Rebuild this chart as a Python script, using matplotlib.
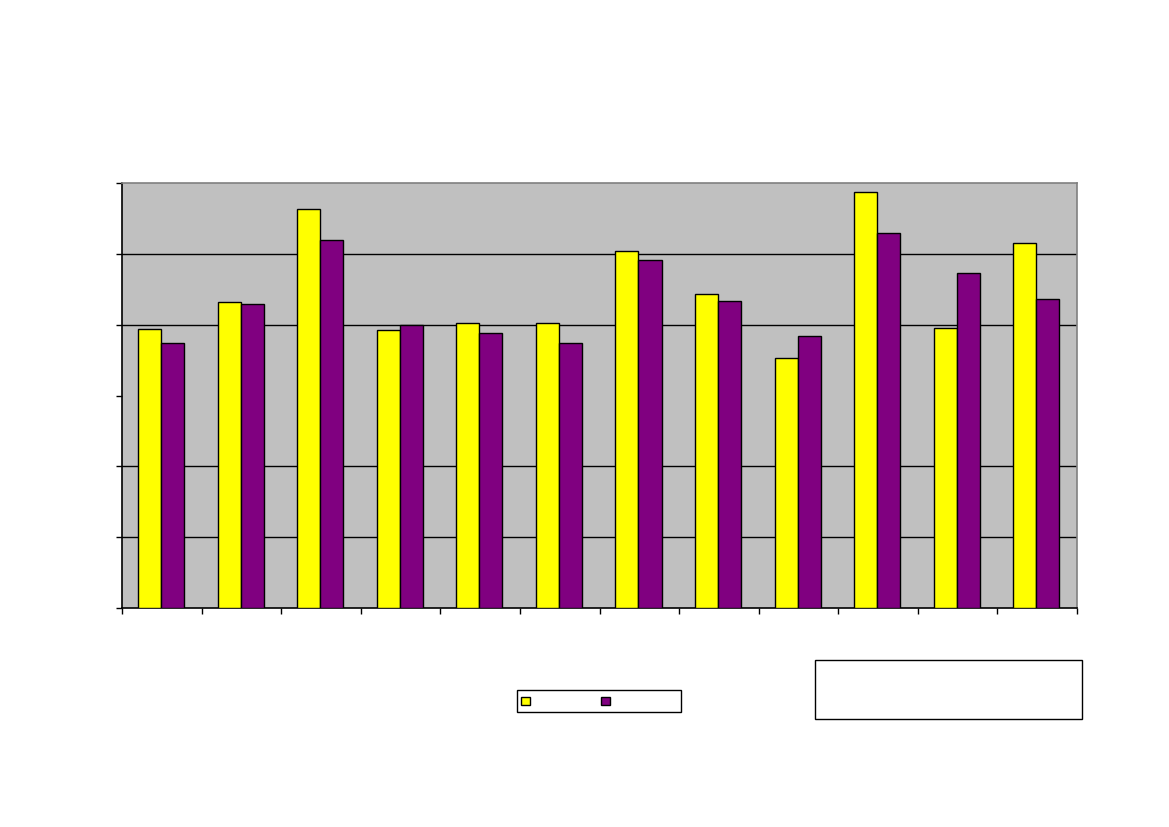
import matplotlib
matplotlib.use("Agg")
import matplotlib.pyplot as plt
import numpy as np
from matplotlib.patches import Rectangle

# Twelve categories, two series (no labels are shown in the original chart)
categories = list(range(12))
series_yellow = [39.4, 43.2, 56.3, 39.2, 40.2, 40.2, 50.4, 44.3, 35.3, 58.8, 39.5, 51.6]
series_purple = [37.4, 42.9, 51.9, 39.9, 38.8, 37.4, 49.2, 43.3, 38.4, 53.0, 47.3, 43.6]
y_ticks = [0, 10, 20, 30, 40, 50, 60]
grid_levels = [10, 20, 40, 50]

YELLOW = "#FFFF00"
PURPLE = "#800080"
PLOT_BG = "#C0C0C0"

fig = plt.figure(figsize=(11.69, 8.27), dpi=100)
ax = fig.add_axes([122 / 1169, 1 - 608 / 827, 955 / 1169, 425 / 827])
ax.set_facecolor(PLOT_BG)

x = np.array(categories) + 0.49
width = 0.29

for level in grid_levels:
    ax.axhline(level, color="black", linewidth=1.0, zorder=1)

ax.bar(x - width / 2, series_yellow, width, color=YELLOW,
       edgecolor="black", linewidth=1.0, zorder=3)
ax.bar(x + width / 2, series_purple, width, color=PURPLE,
       edgecolor="black", linewidth=1.0, zorder=3)

ax.set_xlim(0, len(categories))
ax.set_ylim(y_ticks[0], y_ticks[-1])
ax.set_yticks(y_ticks)
ax.set_xticks(np.arange(len(categories) + 1))
ax.set_yticklabels([])
ax.set_xticklabels([])
ax.tick_params(axis="both", direction="out", length=4, width=1.0,
               color="black")

ax.spines["left"].set_color("black")
ax.spines["bottom"].set_color("black")
ax.spines["left"].set_linewidth(1.2)
ax.spines["bottom"].set_linewidth(1.2)
for side in ("top", "right"):
    ax.spines[side].set_color("#808080")
    ax.spines[side].set_linewidth(1.2)


def fig_rect(x0, y0, x1, y1, **kw):
    """Rectangle in pixel coords (top-left origin) added to the figure."""
    r = Rectangle((x0 / 1169, 1 - y1 / 827), (x1 - x0) / 1169,
                  (y1 - y0) / 827, transform=fig.transFigure, **kw)
    fig.patches.append(r)


# legend box (labels empty in the original)
fig_rect(517, 690, 681, 712, facecolor="white", edgecolor="black",
         linewidth=1.0)
fig_rect(521, 697, 530, 705, facecolor=YELLOW, edgecolor="black",
         linewidth=1.0)
fig_rect(601, 697, 610, 705, facecolor=PURPLE, edgecolor="black",
         linewidth=1.0)

# empty note box at bottom right
fig_rect(815, 660, 1082, 719, facecolor="white", edgecolor="black",
         linewidth=1.0)

fig.savefig("out.png", dpi=100)
